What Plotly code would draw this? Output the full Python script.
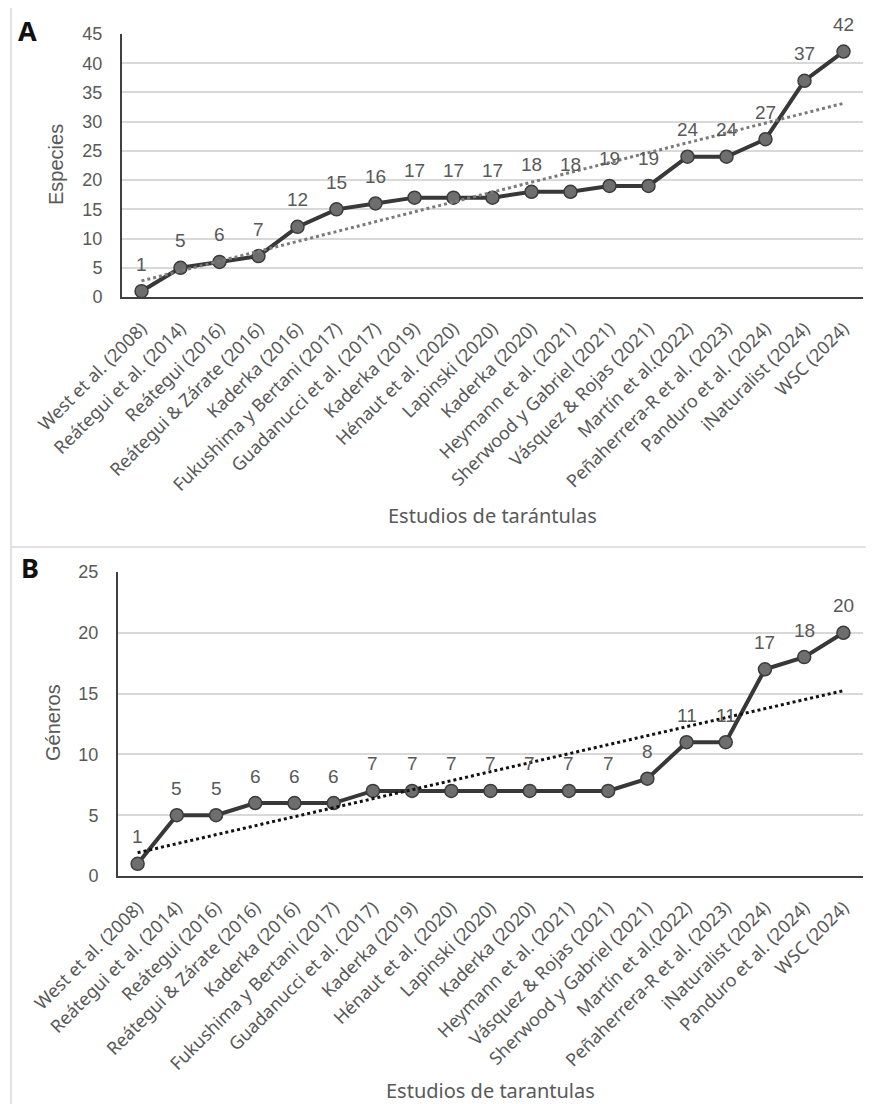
import numpy as np
import plotly.graph_objects as go

# ---------------- data ----------------
cats_a = ["West et al. (2008)", "Reátegui et al. (2014)", "Reátegui (2016)",
          "Reátegui & Zárate (2016)", "Kaderka (2016)", "Fukushima y Bertani (2017)",
          "Guadanucci et al. (2017)", "Kaderka (2019)", "Hénaut et al. (2020)",
          "Lapinski (2020)", "Kaderka (2020)", "Heymann et al. (2021)",
          "Sherwood y Gabriel (2021)", "Vásquez & Rojas (2021)", "Martín et al.(2022)",
          "Peñaherrera-R et al. (2023)", "Panduro et al. (2024)", "iNaturalist (2024)",
          "WSC (2024)"]
especies = [1, 5, 6, 7, 12, 15, 16, 17, 17, 17, 18, 18, 19, 19, 24, 24, 27, 37, 42]

cats_b = ["West et al. (2008)", "Reátegui et al. (2014)", "Reátegui (2016)",
          "Reátegui & Zárate (2016)", "Kaderka (2016)", "Fukushima y Bertani (2017)",
          "Guadanucci et al. (2017)", "Kaderka (2019)", "Hénaut et al. (2020)",
          "Lapinski (2020)", "Kaderka (2020)", "Heymann et al. (2021)",
          "Vásquez & Rojas (2021)", "Sherwood y Gabriel (2021)", "Martín et al.(2022)",
          "Peñaherrera-R et al. (2023)", "iNaturalist (2024)", "Panduro et al. (2024)",
          "WSC (2024)"]
generos = [1, 5, 5, 6, 6, 6, 7, 7, 7, 7, 7, 7, 7, 8, 11, 11, 17, 18, 20]

# page body has an 8px margin; size the figure to fit the 874x1104 window
OFF = 8
W, H = 874 - OFF, 1104 - OFF
def px(x): return (x - OFF) / W
def py(y): return 1 - (y - OFF) / H

NUM_FONT = "Liberation Sans, Arial, sans-serif"
TXT_FONT = "Noto Sans, Open Sans, sans-serif"
GRAY = "#595959"

fig = go.Figure()

def add_panel(cats, vals, xa, ya, trend_color):
    xi = np.arange(1, len(vals) + 1)
    m, b = np.polyfit(xi, vals, 1)
    trend = m * xi + b
    fig.add_trace(go.Scatter(
        x=cats, y=vals, mode="lines+markers", xaxis=xa, yaxis=ya,
        line=dict(color="#383838", width=4),
        marker=dict(size=13, color="#6e6e6e", line=dict(color="#3c3c3c", width=1.5)),
        showlegend=False, hoverinfo="skip"))
    fig.add_trace(go.Scatter(
        x=[cats[0], cats[-1]], y=[trend[0], trend[-1]], mode="lines",
        xaxis=xa, yaxis=ya, line=dict(color=trend_color, width=3, dash="dot"),
        showlegend=False, hoverinfo="skip"))
    for c, v in zip(cats, vals):
        fig.add_annotation(x=c, y=v, xref=xa, yref=ya, text=str(v), showarrow=False,
                           yshift=27, font=dict(family=NUM_FONT, size=19, color=GRAY))

add_panel(cats_a, especies, "x", "y", "#7a7a7a")
add_panel(cats_b, generos, "x2", "y2", "#111111")

xcommon = dict(type="category", showgrid=False, showline=True, linecolor="#404040",
               linewidth=2, tickangle=-45, ticks="outside", ticklen=12,
               tickcolor="rgba(0,0,0,0)", automargin=False,
               tickfont=dict(family=TXT_FONT, size=18, color=GRAY), range=[-0.5, 18.5],
               zeroline=False)
ycommon = dict(showgrid=True, gridcolor="#d9d9d9", gridwidth=1.5, showline=True,
               linecolor="#404040", linewidth=2, zeroline=False, ticks="outside",
               ticklen=14, tickcolor="rgba(0,0,0,0)",
               automargin=False,
               tickfont=dict(family=NUM_FONT, size=18, color=GRAY))

fig.update_layout(
    template="none",
    width=W, height=H, margin=dict(l=0, r=0, t=0, b=0, autoexpand=False),
    paper_bgcolor="white", plot_bgcolor="white",
    xaxis=dict(xcommon, domain=[px(122), px(863)], anchor="y"),
    yaxis=dict(ycommon, domain=[py(297), py(34)], range=[0, 45], dtick=5, anchor="x"),
    xaxis2=dict(xcommon, domain=[px(118), px(863)], anchor="y2"),
    yaxis2=dict(ycommon, domain=[py(876), py(572)], range=[0, 25], dtick=5, anchor="x2"),
)

# panel frames
line_c = "#d9d9d9"
fig.add_shape(type="line", xref="paper", yref="paper", x0=px(11), x1=px(11), y0=py(7), y1=0,
              line=dict(color=line_c, width=1.5))
fig.add_shape(type="line", xref="paper", yref="paper", x0=px(11), x1=px(863), y0=py(7), y1=py(7),
              line=dict(color=line_c, width=1.5))
fig.add_shape(type="line", xref="paper", yref="paper", x0=px(11), x1=1, y0=py(547), y1=py(547),
              line=dict(color=line_c, width=1.5))

# panel letters and axis titles
def ann(text, x, y, size, color, family, angle=0, bold=False):
    fig.add_annotation(xref="paper", yref="paper", x=px(x), y=py(y), text=(f"<b>{text}</b>" if bold else text),
                       showarrow=False, textangle=angle, xanchor="center", yanchor="middle",
                       font=dict(family=family, size=size, color=color))

ann("A", 27, 30, 27, "#111111", TXT_FONT, bold=True)
ann("B", 30, 567, 27, "#111111", TXT_FONT, bold=True)
ann("Especies", 56, 165, 20, GRAY, NUM_FONT, angle=-90)
ann("Géneros", 53, 723, 20, GRAY, NUM_FONT, angle=-90)
ann("Estudios de tarántulas", 492, 516, 20, GRAY, TXT_FONT)
ann("Estudios de tarantulas", 490, 1090, 20, GRAY, TXT_FONT)

fig.write_html("out.html")
